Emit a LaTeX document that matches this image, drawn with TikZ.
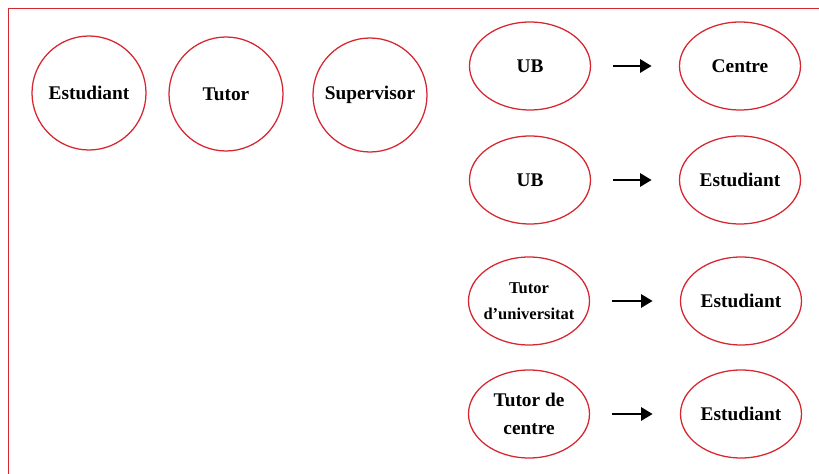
\documentclass[tikz,border=0pt]{standalone}
\usepackage{fontspec}
\setmainfont{Liberation Serif}
\usetikzlibrary{shapes.geometric,arrows.meta}
\definecolor{ubred}{RGB}{214,38,48}
\tikzset{
  circ/.style={draw=ubred, line width=0.95pt, shape=circle, inner sep=0pt, minimum size=85.5pt, font=\fontsize{14.5}{18}\selectfont\bfseries, align=center},
  ell/.style={draw=ubred, line width=0.95pt, shape=ellipse, inner sep=0pt, minimum width=90.75pt, minimum height=66pt, font=\fontsize{14.5}{18}\selectfont\bfseries, align=center},
  arr/.style={line width=1.1pt, -{Triangle[length=8.5pt,width=10pt]}, shorten <=16.5pt, shorten >=20.5pt},
}
\begin{document}
\begin{tikzpicture}[x=0.75pt,y=-0.75pt]
\useasboundingbox (0,0) rectangle (819,474);
\coordinate (tl) at (8.5,8.5);
\coordinate (tr) at (819,8.5);
\coordinate (bl) at (8.5,474);
\draw[ubred, line width=1pt] (tr) -- (tl) -- (bl);

\node[circ] (est) at (89,93) {Estudiant};
\node[circ] (tut) at (226,94) {Tutor};
\node[circ] (sup) at (370,95) {Supervisor};

\node[ell] (ub1) at (530,66) {UB};
\node[ell] (cen) at (740,66) {Centre};
\node[ell] (ub2) at (530,180) {UB};
\node[ell] (est2) at (740,180) {Estudiant};
\node[ell, inner xsep=-12pt, inner ysep=-4pt, font=\fontsize{12.4}{19.5}\selectfont\bfseries] (tu) at (529,301) {Tutor\\d’universitat};
\node[ell] (est3) at (741,301) {Estudiant};
\node[ell, inner xsep=-6pt, inner ysep=-4pt, font=\fontsize{14.5}{21}\selectfont\bfseries] (tc) at (529,414) {Tutor de\\centre};
\node[ell] (est4) at (741,414) {Estudiant};

\draw[arr] (ub1) -- (cen);
\draw[arr] (ub2) -- (est2);
\draw[arr] (tu) -- (est3);
\draw[arr] (tc) -- (est4);
\end{tikzpicture}
\end{document}
